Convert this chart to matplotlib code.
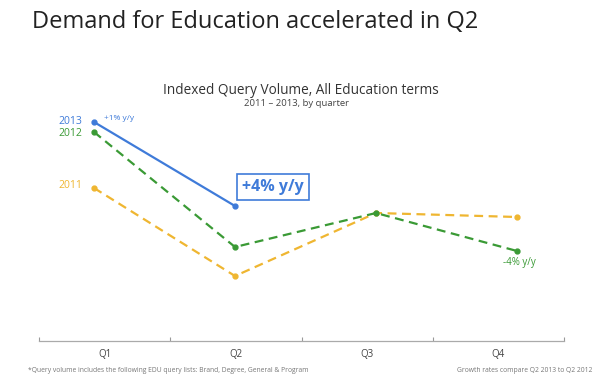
import matplotlib.pyplot as plt
import numpy as np

plt.rcParams['font.family'] = ['Open Sans', 'DejaVu Sans']

quarters = ['Q1', 'Q2', 'Q3', 'Q4']
# indexed query volume (arbitrary index)
vol_2013 = [219, 135]
vol_2012 = [209, 94, 128, 90]
vol_2011 = [153, 65, 128, 124]

blue = '#3f7bd9'
green = '#3a9a35'
yellow = '#efb631'


def draw_chart():
    fig = plt.figure(figsize=(6, 3.79), dpi=100)
    ax = fig.add_axes([39 / 600, 38 / 379, 525 / 600, 241 / 379])

    x = np.arange(len(quarters))
    ax.plot(x, vol_2011, color=yellow, lw=1.6, ls=(0, (4, 2.5)),
            marker='o', ms=3.5)
    ax.plot(x, vol_2012, color=green, lw=1.6, ls=(0, (4, 2.5)),
            marker='o', ms=3.5)
    ax.plot(x[:2], vol_2013, color=blue, lw=1.6, marker='o', ms=3.5)

    left, right = -0.39, 3.333
    ax.set_xlim(left, right)
    ax.set_ylim(0, 241)

    # quarter bands along the bottom axis
    edges = np.linspace(left, right, 5)
    centers = (edges[:-1] + edges[1:]) / 2
    ax.set_xticks(edges)
    ax.set_xticklabels([])
    ax.set_xticks(centers, minor=True)
    ax.set_xticklabels(quarters, minor=True)
    ax.tick_params(axis='x', which='major', direction='in', length=3,
                   color='#999999', width=0.8)
    ax.tick_params(axis='x', which='minor', length=0, pad=6,
                   labelsize=7, labelcolor='#444444')
    ax.set_yticks([])
    for s in ['top', 'right', 'left']:
        ax.spines[s].set_visible(False)
    ax.spines['bottom'].set_color('#aaaaaa')
    ax.spines['bottom'].set_linewidth(0.9)

    # series labels
    ax.text(-0.08, vol_2013[0], '2013', color=blue, fontsize=7.5,
            ha='right', va='center')
    ax.text(-0.08, vol_2012[0] - 1, '2012', color=green, fontsize=7.5,
            ha='right', va='center')
    ax.text(-0.08, vol_2011[0] + 2, '2011', color=yellow, fontsize=7.5,
            ha='right', va='center')
    ax.text(0.07, vol_2013[0] + 3, '+1% y/y', color=blue, fontsize=6,
            ha='left', va='center')
    ax.text(3.02, vol_2012[3] - 11, '-4% y/y', color=green, fontsize=7,
            ha='center', va='center')

    # highlighted growth box
    ax.text(1.27, 154, '+4% y/y', color=blue, fontsize=11.5,
            fontweight='bold', ha='center', va='center',
            bbox=dict(boxstyle='square,pad=0.3', fc='white', ec=blue,
                      lw=1.2))

    fig.text(32 / 600, 1 - 22 / 379, 'Demand for Education accelerated in Q2',
             fontsize=17, color='#222222', ha='left', va='center')
    fig.text(301 / 600, 1 - 91 / 379,
             'Indexed Query Volume, All Education terms',
             fontsize=9.8, color='#333333', ha='center', va='center')
    fig.text(296 / 600, 1 - 104 / 379, '2011 \u2013 2013, by quarter',
             fontsize=6.8, color='#444444', ha='center', va='center')
    fig.text(28 / 600, 1 - 370 / 379,
             '*Query volume includes the following EDU query lists: '
             'Brand, Degree, General & Program',
             fontsize=4.85, color='#777777', ha='left', va='center')
    fig.text(592 / 600, 1 - 370 / 379,
             'Growth rates compare Q2 2013 to Q2 2012',
             fontsize=4.85, color='#777777', ha='right', va='center')

    fig.savefig('out.png', dpi=100)


if __name__ == '__main__':
    draw_chart()
